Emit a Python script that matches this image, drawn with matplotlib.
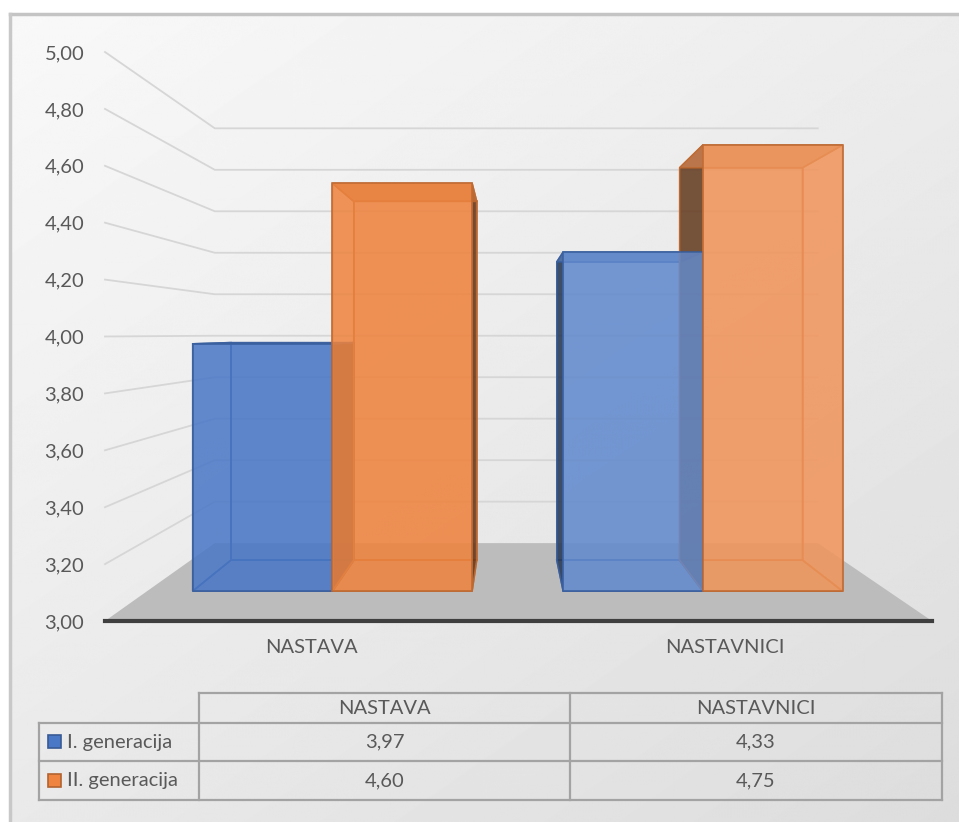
import matplotlib
matplotlib.use("Agg")
import matplotlib.pyplot as plt
import numpy as np
from matplotlib.patches import Polygon, Rectangle
from matplotlib import colors as mcolors

# data
categories = ["NASTAVA", "NASTAVNICI"]
series_names = ["I. generacija", "II. generacija"]
gen1 = [3.97, 4.33]
gen2 = [4.60, 4.75]
y_ticks = [3.0, 3.2, 3.4, 3.6, 3.8, 4.0, 4.2, 4.4, 4.6, 4.8, 5.0]

series_vals = [gen1, gen2]
series_cols = ["#4a78c6", "#ee8440"]

plt.rcParams['font.family'] = ['Lato', 'DejaVu Sans']
TXT = "#595959"

W, H = 959, 822
fig = plt.figure(figsize=(W / 100, H / 100), dpi=100)
fig.patch.set_facecolor("white")

# background with soft gradient + frame
bg = fig.add_axes([0, 0, 1, 1])
bg.set_xlim(0, W)
bg.set_ylim(H, 0)
bg.axis("off")
yy, xx = np.mgrid[0:H, 0:W]
grad = 0.45 * xx / W + 0.55 * yy / H
bg.imshow(0.975 - 0.11 * grad, cmap="gray", vmin=0, vmax=1,
          extent=(10, W, H, 14), aspect="auto", interpolation="bilinear")
bg.set_xlim(0, W)
bg.set_ylim(H, 0)
bg.plot([10, W], [14, 14], color="#c4c4c4", lw=2.5)
bg.plot([10, 10], [14, H], color="#c8c8c8", lw=2.5)

# pseudo 3D setup: front plane = axes data coords
VPX, VPY = 0.98, 4.01      # vanishing point
T_BACK = 0.271             # depth of back wall
T1, T2 = 0.104, 0.212      # bar front / back depth
BAR_W = 0.377


def proj(x, v, t):
    return x + t * (VPX - x), v + t * (VPY - v)


def shade(c, f):
    r = np.array(mcolors.to_rgb(c))
    if f < 1:
        return tuple(r * f)
    return tuple(r + (1 - r) * (f - 1))


ax = fig.add_axes([105 / W, (H - 621) / H, 827 / W, (621 - 52) / H])
ax.set_xlim(0, 2)
ax.set_ylim(3, 5)
ax.patch.set_alpha(0)
for s in ["top", "right", "left"]:
    ax.spines[s].set_visible(False)
ax.spines["bottom"].set_color("#3f3f3f")
ax.spines["bottom"].set_linewidth(3)
ax.spines["bottom"].set_zorder(10)
ax.set_yticks(y_ticks, [f"{v:.2f}".replace(".", ",") for v in y_ticks])
ax.set_xticks([0.5, 1.5], categories)
ax.tick_params(axis="y", length=0, pad=15, labelsize=14.5, labelcolor=TXT)
ax.tick_params(axis="x", length=0, pad=13, labelsize=14.5, labelcolor=TXT)

# floor
floor = [proj(0, 3, 0), proj(2, 3, 0), proj(2, 3, T_BACK), proj(0, 3, T_BACK)]
ax.add_patch(Polygon(floor, closed=True, facecolor="#bcbcbc", edgecolor="none",
                     zorder=1, clip_on=False))

# gridlines on side wall and back wall
for v in y_ticks[1:]:
    pts = [proj(0, v, 0), proj(0, v, T_BACK), proj(2, v, T_BACK)]
    ax.plot([p[0] for p in pts], [p[1] for p in pts], color="#d6d6d6",
            lw=1.3, zorder=2, clip_on=False)

# bars
faces_by_layer = {0: [], 1: [], 2: []}
for gi in range(len(categories)):
    for si, vals in enumerate(series_vals):
        top = vals[gi]
        xl = gi + 0.5 - BAR_W + si * BAR_W
        xr = xl + BAR_W
        base = shade(series_cols[si], 1 + 0.14 * gi)
        P = {}
        for xk, x in (("l", xl), ("r", xr)):
            for vk, v in (("b", 3.0), ("t", top)):
                for tk, t in (("f", T1), ("k", T2)):
                    P[xk + vk + tk] = proj(x, v, t)
        back = [P[k] for k in ("lbk", "rbk", "rtk", "ltk")]
        bottom = [P[k] for k in ("lbf", "rbf", "rbk", "lbk")]
        left = [P[k] for k in ("lbf", "lbk", "ltk", "ltf")]
        right = [P[k] for k in ("rbf", "rbk", "rtk", "rtf")]
        topf = [P[k] for k in ("ltf", "rtf", "rtk", "ltk")]
        front = [P[k] for k in ("lbf", "rbf", "rtf", "ltf")]
        edge = shade(series_cols[si], 0.8)
        faces_by_layer[0].append((back, base, 0.35, edge))
        faces_by_layer[0].append((bottom, shade(base, 0.9), 0.3, edge))
        side_dark = shade(base, 0.4)
        # side facing the viewer is dark, the hidden one stays faint
        if xl > VPX:
            faces_by_layer[1].append((left, side_dark, 0.85, edge))
        else:
            faces_by_layer[1].append((left, base, 0.25, edge))
        if xr < VPX:
            faces_by_layer[1].append((right, side_dark, 0.85, edge))
        else:
            faces_by_layer[1].append((right, base, 0.25, edge))
        faces_by_layer[1].append((topf, shade(base, 0.85), 0.8, edge))
        faces_by_layer[2].append((front, base, 0.82, edge))

for layer in (0, 1, 2):
    for poly, fc, a, ec in faces_by_layer[layer]:
        ax.add_patch(Polygon(poly, closed=True, facecolor=mcolors.to_rgba(fc, a),
                             edgecolor=mcolors.to_rgba(ec, 0.9), lw=1.2,
                             zorder=3 + layer, clip_on=False))

# data table
tab = fig.add_axes([0, 0, 1, 1])
tab.set_xlim(0, W)
tab.set_ylim(H, 0)
tab.axis("off")
col_edges = [39, 199, 570, 942]
row_edges = [693, 723, 761, 800]
LC = "#a3a3a3"
tab.plot([col_edges[1], col_edges[-1]], [row_edges[0]] * 2, color=LC, lw=1.6)
for y in row_edges[1:]:
    tab.plot([col_edges[0], col_edges[-1]], [y, y], color=LC, lw=1.6)
tab.plot([col_edges[0]] * 2, [row_edges[1], row_edges[-1]], color=LC, lw=1.6)
for x in col_edges[1:]:
    tab.plot([x, x], [row_edges[0], row_edges[-1]], color=LC, lw=1.6)

for ci, cat in enumerate(categories):
    xc = (col_edges[ci + 1] + col_edges[ci + 2]) / 2
    yc = (row_edges[0] + row_edges[1]) / 2
    tab.text(xc, yc, cat, ha="center", va="center", fontsize=14.5, color=TXT)

for si, (name, vals) in enumerate(zip(series_names, series_vals)):
    yc = (row_edges[si + 1] + row_edges[si + 2]) / 2
    tab.add_patch(Rectangle((48, yc - 7), 13, 13, facecolor=series_cols[si],
                            edgecolor=shade(series_cols[si], 0.75), lw=1.2))
    tab.text(67, yc, name, ha="left", va="center", fontsize=14.5, color=TXT)
    for ci, v in enumerate(vals):
        xc = (col_edges[ci + 1] + col_edges[ci + 2]) / 2
        tab.text(xc, yc, f"{v:.2f}".replace(".", ","), ha="center", va="center",
                 fontsize=14.5, color=TXT)

fig.savefig("out.png", dpi=100)
